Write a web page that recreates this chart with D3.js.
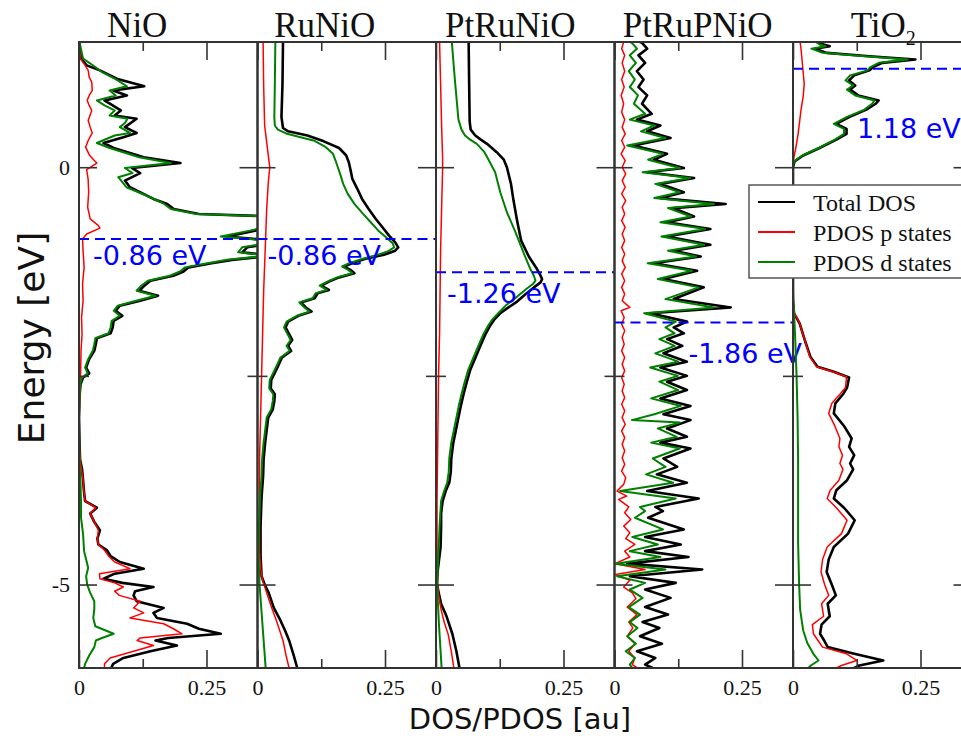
<!DOCTYPE html>
<html>
<head>
<meta charset="utf-8">
<script src="https://cdn.jsdelivr.net/npm/d3@7"></script>
<style>
    body { margin: 0; background: #fff; }
    svg { display: block; }
</style>
</head>
<body>
<svg width="961" height="738"></svg>
<script>
// ---- data: [energy (eV), DOS (au)] ----
const panelNames = [ 'NiO', 'RuNiO', 'PtRuNiO', 'PtRuPNiO', 'TiO2' ];
const levelValues = [ -0.86, -0.86, -1.26, -1.86, 1.18 ];
const levelLabels = [ '-0.86 eV', '-0.86 eV', '-1.26 eV', '-1.86 eV', '1.18 eV' ];
const seriesLabels = [ 'Total DOS', 'PDOS p states', 'PDOS d states' ];
const dosDomain = [ 0, 0.35 ];
const energyDomain = [ -6, 1.5 ];
const dosTicks = [ 0, 0.25 ];
const dosMinorTicks = [ 0.125 ];
const energyTicks = [ 0, -5 ];
const energyMinorTicks = [ -2.5 ];

const nioTotal = [[1.50,0.000],[1.30,0.004],[1.22,0.015],[1.16,0.041],[1.06,0.074],[0.97,0.128],[0.92,0.067],[0.86,0.094],[0.80,0.050],[0.74,0.066],[0.68,0.082],[0.62,0.070],[0.58,0.113],[0.48,0.090],[0.41,0.113],[0.36,0.087],[0.29,0.048],[0.23,0.068],[0.12,0.127],[0.05,0.199],[-0.01,0.104],[-0.07,0.120],[-0.16,0.090],[-0.24,0.100],[-0.38,0.146],[-0.44,0.173],[-0.50,0.186],[-0.56,0.235],[-0.61,0.480],[-0.68,0.400],[-0.76,0.345],[-0.83,0.290],[-0.89,0.400],[-0.96,0.330],[-1.02,0.320],[-1.06,0.380],[-1.11,0.300],[-1.15,0.260],[-1.20,0.215],[-1.25,0.205],[-1.30,0.185],[-1.36,0.140],[-1.42,0.128],[-1.48,0.118],[-1.54,0.155],[-1.60,0.120],[-1.66,0.080],[-1.72,0.072],[-1.78,0.085],[-1.84,0.068],[-1.92,0.066],[-1.99,0.062],[-2.05,0.035],[-2.12,0.033],[-2.20,0.030],[-2.30,0.020],[-2.40,0.014],[-2.47,0.020],[-2.52,0.008],[-2.60,0.003],[-2.75,0.001],[-3.00,0.000],[-3.30,0.001],[-3.50,0.002],[-3.62,0.006],[-3.75,0.008],[-3.90,0.010],[-4.00,0.012],[-4.08,0.035],[-4.15,0.022],[-4.25,0.030],[-4.35,0.041],[-4.45,0.036],[-4.52,0.038],[-4.59,0.055],[-4.66,0.062],[-4.73,0.080],[-4.81,0.127],[-4.87,0.070],[-4.93,0.048],[-4.98,0.085],[-5.03,0.146],[-5.08,0.110],[-5.13,0.107],[-5.20,0.113],[-5.28,0.166],[-5.34,0.146],[-5.40,0.153],[-5.47,0.212],[-5.53,0.235],[-5.59,0.278],[-5.64,0.175],[-5.67,0.150],[-5.73,0.192],[-5.80,0.140],[-5.88,0.087],[-5.95,0.067],[-6.00,0.063]];
const nioP = [[1.50,0.000],[1.30,0.003],[1.22,0.012],[1.16,0.018],[1.08,0.020],[1.02,0.025],[0.92,0.026],[0.86,0.020],[0.80,0.016],[0.74,0.020],[0.68,0.025],[0.56,0.018],[0.48,0.022],[0.41,0.026],[0.32,0.018],[0.24,0.013],[0.15,0.020],[0.08,0.030],[0.05,0.035],[-0.03,0.015],[-0.15,0.018],[-0.30,0.019],[-0.48,0.017],[-0.62,0.022],[-0.70,0.038],[-0.73,0.041],[-0.80,0.015],[-0.86,0.007],[-1.00,0.008],[-1.20,0.010],[-1.40,0.007],[-1.60,0.008],[-1.80,0.005],[-2.00,0.006],[-2.20,0.004],[-2.50,0.003],[-2.80,0.001],[-3.20,0.000],[-3.50,0.002],[-3.62,0.005],[-3.75,0.008],[-3.90,0.010],[-4.00,0.012],[-4.08,0.033],[-4.15,0.022],[-4.25,0.030],[-4.35,0.038],[-4.45,0.036],[-4.52,0.038],[-4.59,0.050],[-4.66,0.058],[-4.73,0.070],[-4.81,0.100],[-4.87,0.040],[-4.93,0.041],[-4.98,0.070],[-5.03,0.087],[-5.08,0.070],[-5.13,0.079],[-5.20,0.120],[-5.28,0.107],[-5.34,0.127],[-5.40,0.100],[-5.47,0.166],[-5.53,0.185],[-5.59,0.202],[-5.64,0.120],[-5.67,0.114],[-5.73,0.146],[-5.80,0.107],[-5.88,0.061],[-5.95,0.050],[-6.00,0.050]];
const nioD = [[1.50,0.001],[1.30,0.008],[1.20,0.032],[1.14,0.045],[1.06,0.070],[0.97,0.094],[0.92,0.060],[0.86,0.072],[0.80,0.035],[0.74,0.050],[0.68,0.070],[0.62,0.060],[0.58,0.095],[0.53,0.090],[0.48,0.080],[0.41,0.100],[0.38,0.070],[0.29,0.035],[0.23,0.060],[0.12,0.118],[0.05,0.180],[-0.01,0.090],[-0.07,0.105],[-0.12,0.077],[-0.24,0.093],[-0.36,0.140],[-0.44,0.167],[-0.50,0.180],[-0.56,0.230],[-0.61,0.470],[-0.68,0.390],[-0.76,0.335],[-0.83,0.278],[-0.89,0.390],[-0.96,0.320],[-1.02,0.312],[-1.06,0.370],[-1.11,0.290],[-1.15,0.252],[-1.20,0.208],[-1.25,0.198],[-1.30,0.178],[-1.36,0.135],[-1.42,0.122],[-1.48,0.113],[-1.54,0.150],[-1.60,0.112],[-1.66,0.076],[-1.72,0.068],[-1.78,0.080],[-1.84,0.064],[-1.92,0.062],[-1.99,0.058],[-2.05,0.032],[-2.12,0.030],[-2.20,0.027],[-2.30,0.018],[-2.40,0.012],[-2.47,0.017],[-2.52,0.006],[-2.60,0.002],[-2.75,0.001],[-3.00,0.000],[-3.50,0.001],[-3.80,0.003],[-4.00,0.004],[-4.20,0.004],[-4.40,0.008],[-4.60,0.010],[-4.80,0.018],[-4.90,0.014],[-5.00,0.016],[-5.10,0.022],[-5.20,0.030],[-5.30,0.030],[-5.40,0.028],[-5.50,0.032],[-5.59,0.068],[-5.64,0.045],[-5.67,0.033],[-5.75,0.030],[-5.85,0.020],[-5.95,0.012],[-6.00,0.010]];

const runioTotal = [[1.50,0.050],[1.00,0.049],[0.60,0.047],[0.47,0.050],[0.43,0.060],[0.38,0.098],[0.31,0.130],[0.23,0.160],[0.14,0.174],[0.06,0.179],[-0.05,0.183],[-0.14,0.186],[-0.25,0.195],[-0.38,0.205],[-0.50,0.218],[-0.62,0.232],[-0.72,0.245],[-0.82,0.258],[-0.90,0.270],[-0.96,0.276],[-1.00,0.270],[-1.05,0.248],[-1.10,0.210],[-1.15,0.185],[-1.19,0.170],[-1.23,0.182],[-1.27,0.190],[-1.32,0.160],[-1.37,0.140],[-1.42,0.125],[-1.47,0.140],[-1.51,0.118],[-1.57,0.112],[-1.62,0.085],[-1.68,0.095],[-1.73,0.106],[-1.78,0.080],[-1.85,0.060],[-1.92,0.055],[-2.00,0.062],[-2.07,0.068],[-2.14,0.060],[-2.20,0.066],[-2.28,0.048],[-2.36,0.042],[-2.45,0.035],[-2.55,0.027],[-2.65,0.026],[-2.72,0.034],[-2.80,0.033],[-2.90,0.030],[-3.00,0.021],[-3.15,0.018],[-3.30,0.015],[-3.50,0.012],[-3.70,0.011],[-3.95,0.008],[-4.30,0.006],[-4.65,0.006],[-4.90,0.008],[-5.00,0.014],[-5.10,0.022],[-5.28,0.032],[-5.43,0.045],[-5.55,0.054],[-5.67,0.062],[-5.85,0.071],[-6.00,0.078]];
const runioP = [[1.50,0.011],[1.00,0.012],[0.50,0.014],[0.30,0.018],[0.10,0.022],[0.00,0.024],[-0.20,0.021],[-0.50,0.018],[-1.00,0.015],[-1.50,0.012],[-2.00,0.010],[-2.50,0.008],[-3.00,0.006],[-3.50,0.004],[-4.00,0.004],[-4.60,0.004],[-4.80,0.006],[-4.95,0.010],[-5.10,0.018],[-5.28,0.028],[-5.43,0.037],[-5.67,0.050],[-5.85,0.056],[-6.00,0.062]];
const runioD = [[1.50,0.035],[1.00,0.034],[0.60,0.033],[0.50,0.034],[0.45,0.040],[0.40,0.058],[0.35,0.090],[0.32,0.110],[0.24,0.134],[0.16,0.148],[0.08,0.153],[-0.08,0.162],[-0.20,0.168],[-0.32,0.177],[-0.44,0.190],[-0.56,0.207],[-0.66,0.222],[-0.76,0.237],[-0.84,0.252],[-0.91,0.265],[-0.96,0.268],[-1.01,0.255],[-1.05,0.235],[-1.10,0.205],[-1.15,0.180],[-1.19,0.166],[-1.23,0.178],[-1.27,0.186],[-1.32,0.156],[-1.37,0.137],[-1.42,0.122],[-1.47,0.136],[-1.51,0.114],[-1.57,0.108],[-1.62,0.082],[-1.68,0.092],[-1.73,0.102],[-1.78,0.077],[-1.85,0.057],[-1.92,0.052],[-2.00,0.059],[-2.07,0.065],[-2.14,0.057],[-2.20,0.063],[-2.28,0.045],[-2.36,0.039],[-2.45,0.032],[-2.55,0.024],[-2.65,0.023],[-2.72,0.031],[-2.80,0.030],[-2.90,0.027],[-3.00,0.018],[-3.15,0.015],[-3.30,0.012],[-3.50,0.009],[-3.70,0.008],[-3.95,0.005],[-4.30,0.003],[-4.65,0.002],[-5.00,0.004],[-5.50,0.010],[-6.00,0.016]];

const ptrunioTotal = [[1.50,0.064],[1.00,0.065],[0.55,0.066],[0.45,0.068],[0.38,0.077],[0.33,0.088],[0.28,0.100],[0.18,0.119],[0.09,0.133],[0.00,0.139],[-0.20,0.147],[-0.40,0.152],[-0.64,0.159],[-0.88,0.167],[-1.07,0.182],[-1.22,0.198],[-1.30,0.205],[-1.34,0.208],[-1.38,0.205],[-1.44,0.192],[-1.52,0.176],[-1.61,0.159],[-1.68,0.142],[-1.75,0.126],[-1.82,0.115],[-1.90,0.106],[-2.00,0.097],[-2.14,0.087],[-2.30,0.076],[-2.43,0.067],[-2.58,0.060],[-2.72,0.054],[-2.85,0.049],[-3.00,0.044],[-3.15,0.039],[-3.30,0.034],[-3.49,0.030],[-3.65,0.029],[-3.78,0.026],[-3.88,0.019],[-4.00,0.013],[-4.15,0.010],[-4.30,0.010],[-4.55,0.009],[-4.70,0.006],[-4.85,0.003],[-5.00,0.002],[-5.12,0.006],[-5.23,0.010],[-5.37,0.020],[-5.59,0.032],[-5.80,0.040],[-6.00,0.046]];
const ptrunioP = [[1.50,0.007],[1.00,0.009],[0.50,0.011],[0.10,0.013],[0.00,0.013],[-0.50,0.011],[-1.00,0.009],[-1.50,0.008],[-2.00,0.007],[-2.50,0.005],[-3.00,0.004],[-3.50,0.003],[-4.00,0.002],[-4.50,0.002],[-5.00,0.003],[-5.12,0.005],[-5.30,0.010],[-5.45,0.016],[-5.60,0.024],[-5.80,0.030],[-6.00,0.035]];
const ptrunioD = [[1.50,0.031],[1.05,0.037],[0.57,0.044],[0.45,0.050],[0.38,0.057],[0.33,0.067],[0.28,0.080],[0.18,0.095],[0.09,0.103],[-0.06,0.116],[-0.30,0.126],[-0.54,0.139],[-0.78,0.156],[-1.03,0.172],[-1.22,0.185],[-1.30,0.192],[-1.36,0.195],[-1.40,0.190],[-1.46,0.177],[-1.56,0.157],[-1.65,0.138],[-1.75,0.122],[-1.82,0.111],[-1.90,0.102],[-2.00,0.093],[-2.14,0.083],[-2.30,0.072],[-2.43,0.063],[-2.58,0.056],[-2.72,0.050],[-2.85,0.045],[-3.00,0.040],[-3.15,0.035],[-3.30,0.030],[-3.49,0.026],[-3.65,0.025],[-3.78,0.022],[-3.88,0.016],[-4.00,0.010],[-4.30,0.007],[-4.60,0.005],[-5.00,0.002],[-5.50,0.006],[-6.00,0.011]];

const ptrupnioTotal = [[1.50,0.050],[1.49,0.054],[1.42,0.064],[1.34,0.047],[1.25,0.060],[1.15,0.044],[1.05,0.057],[0.96,0.047],[0.86,0.064],[0.76,0.054],[0.64,0.073],[0.57,0.044],[0.50,0.090],[0.43,0.064],[0.35,0.110],[0.26,0.037],[0.16,0.103],[0.09,0.077],[-0.01,0.136],[-0.06,0.064],[-0.13,0.156],[-0.20,0.090],[-0.30,0.136],[-0.37,0.090],[-0.44,0.218],[-0.49,0.116],[-0.59,0.156],[-0.66,0.103],[-0.74,0.188],[-0.83,0.103],[-0.93,0.188],[-1.00,0.116],[-1.07,0.169],[-1.15,0.077],[-1.24,0.162],[-1.34,0.096],[-1.44,0.175],[-1.58,0.116],[-1.68,0.228],[-1.75,0.070],[-1.85,0.142],[-1.92,0.116],[-1.99,0.136],[-2.06,0.103],[-2.14,0.133],[-2.23,0.096],[-2.33,0.142],[-2.40,0.090],[-2.50,0.142],[-2.57,0.103],[-2.67,0.142],[-2.77,0.090],[-2.86,0.149],[-2.96,0.096],[-3.03,0.149],[-3.13,0.103],[-3.23,0.142],[-3.30,0.090],[-3.37,0.149],[-3.49,0.096],[-3.59,0.123],[-3.68,0.083],[-3.78,0.142],[-3.88,0.064],[-3.97,0.165],[-4.07,0.080],[-4.12,0.095],[-4.20,0.066],[-4.34,0.136],[-4.43,0.060],[-4.52,0.130],[-4.60,0.060],[-4.67,0.145],[-4.75,0.025],[-4.82,0.172],[-4.90,0.030],[-4.98,0.120],[-5.06,0.060],[-5.16,0.110],[-5.27,0.060],[-5.36,0.105],[-5.45,0.055],[-5.52,0.088],[-5.62,0.050],[-5.71,0.093],[-5.80,0.044],[-5.88,0.080],[-5.96,0.060],[-6.00,0.075]];
const ptrupnioP = [[1.50,0.018],[1.42,0.014],[1.34,0.020],[1.25,0.015],[1.15,0.020],[1.05,0.014],[0.96,0.019],[0.86,0.013],[0.76,0.018],[0.66,0.014],[0.57,0.020],[0.48,0.015],[0.40,0.021],[0.32,0.014],[0.24,0.020],[0.16,0.013],[0.08,0.021],[0.00,0.015],[-0.08,0.022],[-0.16,0.015],[-0.24,0.021],[-0.32,0.014],[-0.40,0.022],[-0.48,0.015],[-0.56,0.020],[-0.64,0.014],[-0.72,0.021],[-0.80,0.015],[-0.88,0.020],[-0.96,0.014],[-1.04,0.020],[-1.12,0.015],[-1.20,0.021],[-1.28,0.014],[-1.36,0.020],[-1.44,0.014],[-1.52,0.020],[-1.60,0.015],[-1.68,0.030],[-1.72,0.013],[-1.80,0.019],[-1.88,0.014],[-1.96,0.020],[-2.04,0.015],[-2.12,0.019],[-2.20,0.014],[-2.28,0.020],[-2.36,0.015],[-2.44,0.020],[-2.52,0.014],[-2.60,0.019],[-2.68,0.015],[-2.76,0.020],[-2.84,0.014],[-2.92,0.020],[-3.00,0.015],[-3.08,0.021],[-3.16,0.014],[-3.24,0.020],[-3.32,0.015],[-3.40,0.020],[-3.48,0.015],[-3.56,0.020],[-3.64,0.014],[-3.72,0.022],[-3.80,0.018],[-3.88,0.005],[-3.94,0.024],[-3.98,0.008],[-4.07,0.028],[-4.14,0.020],[-4.22,0.032],[-4.30,0.018],[-4.38,0.030],[-4.45,0.022],[-4.52,0.040],[-4.60,0.020],[-4.67,0.030],[-4.75,0.001],[-4.82,0.060],[-4.88,0.002],[-4.95,0.030],[-5.03,0.018],[-5.10,0.035],[-5.17,0.042],[-5.27,0.025],[-5.36,0.044],[-5.45,0.028],[-5.52,0.036],[-5.62,0.025],[-5.71,0.040],[-5.80,0.028],[-5.88,0.040],[-5.96,0.035],[-6.00,0.045]];
const ptrupnioD = [[1.50,0.030],[1.49,0.034],[1.42,0.044],[1.34,0.030],[1.25,0.042],[1.15,0.028],[1.05,0.040],[0.96,0.030],[0.86,0.046],[0.76,0.038],[0.64,0.060],[0.57,0.030],[0.50,0.078],[0.43,0.052],[0.35,0.100],[0.26,0.025],[0.16,0.095],[0.09,0.066],[-0.01,0.128],[-0.06,0.055],[-0.13,0.148],[-0.20,0.080],[-0.30,0.128],[-0.37,0.078],[-0.44,0.195],[-0.49,0.105],[-0.59,0.150],[-0.66,0.090],[-0.74,0.178],[-0.83,0.092],[-0.93,0.176],[-1.00,0.105],[-1.07,0.160],[-1.15,0.065],[-1.24,0.152],[-1.34,0.085],[-1.44,0.165],[-1.58,0.100],[-1.68,0.195],[-1.75,0.058],[-1.85,0.120],[-1.92,0.100],[-1.99,0.118],[-2.06,0.088],[-2.14,0.118],[-2.23,0.080],[-2.33,0.125],[-2.40,0.070],[-2.50,0.124],[-2.57,0.088],[-2.67,0.125],[-2.77,0.072],[-2.86,0.130],[-2.96,0.078],[-3.03,0.034],[-3.06,0.128],[-3.13,0.085],[-3.23,0.122],[-3.30,0.072],[-3.37,0.128],[-3.49,0.075],[-3.59,0.100],[-3.68,0.062],[-3.78,0.115],[-3.88,0.011],[-3.97,0.120],[-4.07,0.050],[-4.12,0.060],[-4.20,0.040],[-4.34,0.095],[-4.43,0.035],[-4.52,0.085],[-4.60,0.030],[-4.67,0.090],[-4.75,0.002],[-4.82,0.100],[-4.90,0.005],[-4.98,0.060],[-5.06,0.030],[-5.16,0.055],[-5.27,0.028],[-5.36,0.050],[-5.45,0.030],[-5.52,0.045],[-5.62,0.025],[-5.71,0.042],[-5.80,0.022],[-5.88,0.040],[-5.96,0.030],[-6.00,0.035]];

const tio2Total = [[1.50,0.050],[1.47,0.060],[1.45,0.072],[1.42,0.043],[1.37,0.066],[1.33,0.150],[1.29,0.240],[1.25,0.175],[1.20,0.157],[1.16,0.150],[1.10,0.120],[1.04,0.110],[0.98,0.122],[0.93,0.112],[0.86,0.128],[0.80,0.168],[0.76,0.162],[0.69,0.144],[0.60,0.110],[0.52,0.085],[0.46,0.105],[0.40,0.105],[0.33,0.085],[0.23,0.052],[0.14,0.020],[0.07,0.003],[0.00,0.000],[-1.00,0.000],[-1.60,0.000],[-1.75,0.002],[-1.87,0.013],[-2.07,0.023],[-2.27,0.034],[-2.39,0.048],[-2.45,0.080],[-2.52,0.110],[-2.64,0.106],[-2.72,0.098],[-2.83,0.083],[-2.95,0.080],[-3.10,0.100],[-3.25,0.115],[-3.35,0.110],[-3.45,0.120],[-3.55,0.112],[-3.62,0.118],[-3.75,0.106],[-3.87,0.085],[-3.97,0.080],[-4.08,0.100],[-4.23,0.121],[-4.39,0.108],[-4.55,0.080],[-4.70,0.070],[-4.85,0.066],[-5.00,0.076],[-5.13,0.084],[-5.23,0.068],[-5.38,0.072],[-5.48,0.056],[-5.59,0.053],[-5.68,0.062],[-5.75,0.068],[-5.83,0.120],[-5.91,0.177],[-5.97,0.130],[-6.00,0.120]];
const tio2P = [[1.50,0.014],[1.40,0.016],[1.20,0.019],[1.00,0.022],[0.85,0.020],[0.70,0.016],[0.55,0.013],[0.40,0.010],[0.25,0.006],[0.12,0.002],[0.05,0.000],[-1.00,0.000],[-1.65,0.000],[-1.75,0.003],[-1.87,0.013],[-2.07,0.023],[-2.27,0.033],[-2.39,0.046],[-2.45,0.078],[-2.51,0.105],[-2.64,0.103],[-2.72,0.092],[-2.83,0.076],[-2.95,0.070],[-3.10,0.082],[-3.25,0.092],[-3.35,0.090],[-3.45,0.097],[-3.55,0.092],[-3.62,0.098],[-3.75,0.090],[-3.87,0.073],[-3.97,0.067],[-4.08,0.085],[-4.23,0.106],[-4.39,0.095],[-4.55,0.067],[-4.70,0.058],[-4.85,0.055],[-5.00,0.062],[-5.13,0.070],[-5.23,0.056],[-5.38,0.060],[-5.48,0.038],[-5.59,0.040],[-5.68,0.050],[-5.75,0.058],[-5.83,0.105],[-5.91,0.125],[-5.97,0.095],[-6.00,0.085]];
const tio2D = [[1.50,0.045],[1.47,0.052],[1.45,0.064],[1.42,0.036],[1.37,0.058],[1.33,0.140],[1.29,0.225],[1.25,0.168],[1.20,0.152],[1.16,0.146],[1.10,0.112],[1.04,0.103],[0.98,0.118],[0.93,0.106],[0.86,0.122],[0.80,0.160],[0.76,0.155],[0.69,0.140],[0.60,0.105],[0.52,0.080],[0.46,0.100],[0.40,0.100],[0.33,0.082],[0.23,0.050],[0.14,0.018],[0.07,0.002],[0.00,0.000],[-1.50,0.000],[-2.00,0.004],[-2.50,0.007],[-3.00,0.009],[-3.50,0.010],[-4.00,0.010],[-4.50,0.010],[-5.00,0.012],[-5.30,0.014],[-5.55,0.020],[-5.70,0.028],[-5.83,0.040],[-5.91,0.050],[-5.97,0.035],[-6.00,0.030]];

// ---- layout / style ----
const config = {
    margin: { left: 79, top: 42 },
    panelWidth: 178.5,
    plotHeight: 626,
    frameColor: '#333',
    serif: '"Liberation Serif", "Times New Roman", serif',
    sans: '"DejaVu Sans", sans-serif'
};
const seriesColors = [ '#000000', '#ff0000', '#008000' ];
const seriesWidths = [ 2.6, 1.5, 2.0 ];
const titleOffsets = [ -31, -22, -15, -6, 1 ];
const labelOffsets = [ [ 14, 26 ], [ 10, 26 ], [ 11, 31 ], [ 74, 41 ], [ 64, 69 ] ];

const panelSeries = [
    [ nioTotal, nioP, nioD ],
    [ runioTotal, runioP, runioD ],
    [ ptrunioTotal, ptrunioP, ptrunioD ],
    [ ptrupnioTotal, ptrupnioP, ptrupnioD ],
    [ tio2Total, tio2P, tio2D ]
];

const svg = d3.select( 'svg' );

const xScale = d3.scaleLinear().domain( dosDomain ).range( [ 0, config.panelWidth ] );
const yScale = d3.scaleLinear().domain( energyDomain ).range( [ config.plotHeight, 0 ] );

const line = d3.line()
    .x( d => xScale( d[ 1 ] ) )
    .y( d => yScale( d[ 0 ] ) );

function styleAxis( g ) {
    g.select( '.domain' ).remove();
    g.selectAll( '.tick line' ).attr( 'stroke', config.frameColor ).attr( 'stroke-width', 1.6 );
    g.selectAll( 'text' )
        .attr( 'font-family', config.serif )
        .attr( 'font-size', 22 )
        .attr( 'fill', '#111' );
}

function drawPanel( name, index ) {
    const left = config.margin.left + index * config.panelWidth;
    const panel = svg.append( 'g' )
        .attr( 'transform', `translate(${left},${config.margin.top})` );

    const clipId = `clip-${index}`;
    panel.append( 'clipPath' ).attr( 'id', clipId )
        .append( 'rect' )
        .attr( 'width', config.panelWidth )
        .attr( 'height', config.plotHeight );

    // curves: total, p, d
    const curves = panel.append( 'g' ).attr( 'clip-path', `url(#${clipId})` );
    panelSeries[ index ].forEach( ( series, s ) => {
        curves.append( 'path' )
            .datum( series )
            .attr( 'fill', 'none' )
            .attr( 'stroke', seriesColors[ s ] )
            .attr( 'stroke-width', seriesWidths[ s ] )
            .attr( 'stroke-linejoin', 'round' )
            .attr( 'd', line );
    } );

    // band edge marker
    const level = levelValues[ index ];
    curves.append( 'line' )
        .attr( 'x1', 0 )
        .attr( 'x2', config.panelWidth )
        .attr( 'y1', yScale( level ) )
        .attr( 'y2', yScale( level ) )
        .attr( 'stroke', '#0000ff' )
        .attr( 'stroke-width', 2 )
        .attr( 'stroke-dasharray', '10,6' );

    // frame
    panel.append( 'rect' )
        .attr( 'width', config.panelWidth )
        .attr( 'height', config.plotHeight )
        .attr( 'fill', 'none' )
        .attr( 'stroke', config.frameColor )
        .attr( 'stroke-width', 2 );

    // ticks on all four sides, pointing inward
    const bottom = panel.append( 'g' )
        .attr( 'transform', `translate(0,${config.plotHeight})` )
        .call( d3.axisBottom( xScale ).tickValues( dosTicks ).tickSize( -18 ).tickPadding( 11 )
            .tickFormat( d => d === 0 ? '0' : d3.format( '.2f' )( d ) ) );
    styleAxis( bottom );
    styleAxis( panel.append( 'g' )
        .attr( 'transform', `translate(0,${config.plotHeight})` )
        .call( d3.axisBottom( xScale ).tickValues( dosMinorTicks ).tickSize( -9 ).tickFormat( '' ) ) );
    styleAxis( panel.append( 'g' )
        .call( d3.axisTop( xScale ).tickValues( dosTicks ).tickSize( -18 ).tickFormat( '' ) ) );
    styleAxis( panel.append( 'g' )
        .call( d3.axisTop( xScale ).tickValues( dosMinorTicks ).tickSize( -9 ).tickFormat( '' ) ) );

    const leftAxis = panel.append( 'g' )
        .call( d3.axisLeft( yScale ).tickValues( energyTicks ).tickSize( -18 ).tickPadding( 9 )
            .tickFormat( index === 0 ? ( d => String( d ) ) : '' ) );
    styleAxis( leftAxis );
    styleAxis( panel.append( 'g' )
        .call( d3.axisLeft( yScale ).tickValues( energyMinorTicks ).tickSize( -10 ).tickFormat( '' ) ) );
    styleAxis( panel.append( 'g' )
        .attr( 'transform', `translate(${config.panelWidth},0)` )
        .call( d3.axisRight( yScale ).tickValues( energyTicks ).tickSize( -18 ).tickFormat( '' ) ) );
    styleAxis( panel.append( 'g' )
        .attr( 'transform', `translate(${config.panelWidth},0)` )
        .call( d3.axisRight( yScale ).tickValues( energyMinorTicks ).tickSize( -10 ).tickFormat( '' ) ) );

    // level label
    panel.append( 'text' )
        .attr( 'x', labelOffsets[ index ][ 0 ] )
        .attr( 'y', yScale( level ) + labelOffsets[ index ][ 1 ] )
        .attr( 'font-family', config.sans )
        .attr( 'font-size', 27 )
        .attr( 'fill', '#0000ff' )
        .text( levelLabels[ index ] );

    // title
    const title = panel.append( 'text' )
        .attr( 'x', config.panelWidth / 2 + titleOffsets[ index ] )
        .attr( 'y', -5 )
        .attr( 'text-anchor', 'middle' )
        .attr( 'font-family', config.serif )
        .attr( 'font-size', 35 )
        .attr( 'fill', '#111' );
    const match = name.match( /^(.*?)(\d+)$/ );
    if ( match ) {
        title.append( 'tspan' ).text( match[ 1 ] );
        title.append( 'tspan' ).attr( 'font-size', 20 ).attr( 'dy', 8 ).text( match[ 2 ] );
    } else {
        title.text( name );
    }
}

panelNames.forEach( drawPanel );

// legend
const legend = svg.append( 'g' ).attr( 'transform', 'translate(749,185)' );
legend.append( 'rect' )
    .attr( 'width', 240 )
    .attr( 'height', 93 )
    .attr( 'fill', '#fff' )
    .attr( 'stroke', '#555' )
    .attr( 'stroke-width', 1.5 );
seriesLabels.forEach( ( label, i ) => {
    const y = 17 + i * 30;
    legend.append( 'line' )
        .attr( 'x1', 9 ).attr( 'x2', 46 )
        .attr( 'y1', y ).attr( 'y2', y )
        .attr( 'stroke', seriesColors[ i ] )
        .attr( 'stroke-width', 1.8 );
    legend.append( 'text' )
        .attr( 'x', 64 )
        .attr( 'y', y + 9 )
        .attr( 'font-family', config.serif )
        .attr( 'font-size', 24 )
        .attr( 'fill', '#111' )
        .text( label );
} );

// axis titles
svg.append( 'text' )
    .attr( 'transform', 'translate(44,338) rotate(-90)' )
    .attr( 'text-anchor', 'middle' )
    .attr( 'font-family', config.sans )
    .attr( 'font-size', 36 )
    .attr( 'fill', '#111' )
    .text( 'Energy [eV]' );

svg.append( 'text' )
    .attr( 'x', 520 )
    .attr( 'y', 729 )
    .attr( 'text-anchor', 'middle' )
    .attr( 'font-family', config.sans )
    .attr( 'font-size', 29 )
    .attr( 'fill', '#111' )
    .text( 'DOS/PDOS [au]' );
</script>
</body>
</html>
